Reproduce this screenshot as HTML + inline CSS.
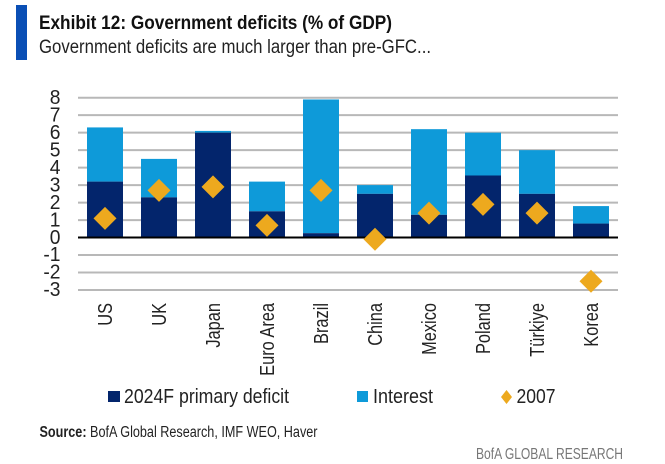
<!DOCTYPE html>
<html lang="en">
<head>
<meta charset="utf-8">
<title>Exhibit 12: Government deficits</title>
<style>
html,body{margin:0;padding:0;background:#fff;width:665px;height:464px;overflow:hidden}
svg{display:block;font-family:"Liberation Sans",sans-serif}
</style>
</head>
<body>
<svg id="chart" xmlns="http://www.w3.org/2000/svg" width="665" height="464" viewBox="0 0 665 464">
  <rect x="16" y="5" width="11" height="55" fill="#0a4fb5"/>
  <text x="39" y="29" font-size="19" font-weight="700" fill="#111" textLength="353" lengthAdjust="spacingAndGlyphs">Exhibit 12: Government deficits (% of GDP)</text>
  <text x="39" y="53" font-size="19" fill="#222" textLength="392" lengthAdjust="spacingAndGlyphs">Government deficits are much larger than pre-GFC...</text>
  <g id="grid"></g>
  <g id="yticks"></g>
  <g id="bars"></g>
  <line id="zero" x1="78" x2="618" stroke="#000" stroke-width="2"/>
  <g id="points"></g>
  <g id="xlabels"></g>

  <g>
    <g>
      <rect x="108" y="391" width="12" height="11" fill="#03256c"/>
      <text x="124" y="403" font-size="20" fill="#222" textLength="165" lengthAdjust="spacingAndGlyphs">2024F primary deficit</text>
    </g>
    <g>
      <rect x="357" y="391" width="11" height="11" fill="#0e9ad9"/>
      <text x="373" y="403" font-size="20" fill="#222" textLength="60" lengthAdjust="spacingAndGlyphs">Interest</text>
    </g>
    <g>
      <polygon points="506.5,390 512,397 506.5,404 501,397" fill="#eda91e"/>
      <text x="516.5" y="403" font-size="20" fill="#222" textLength="39" lengthAdjust="spacingAndGlyphs">2007</text>
    </g>
  </g>

  <text x="39.5" y="437" font-size="15.5" fill="#222" textLength="278" lengthAdjust="spacingAndGlyphs"><tspan font-weight="700">Source:</tspan> BofA Global Research, IMF WEO, Haver</text>
  <text x="476" y="459" font-size="16" fill="#777" textLength="147" lengthAdjust="spacingAndGlyphs">BofA GLOBAL RESEARCH</text>
</svg>
<script>
const categories = ["US","UK","Japan","Euro Area","Brazil","China","Mexico","Poland","Türkiye","Korea"];
const primaryDeficit = [3.2,2.3,6.0,1.5,0.25,2.5,1.3,3.55,2.5,0.8];
const interest = [3.1,2.2,0.1,1.7,7.65,0.5,4.9,2.45,2.5,1.0];
const values2007 = [1.1,2.7,2.9,0.7,2.7,-0.1,1.4,1.9,1.4,-2.5];
const yTicks = [8,7,6,5,4,3,2,1,0,-1,-2,-3];

const NS = "http://www.w3.org/2000/svg";
const plotLeft = 78, plotRight = 618, yTop = 97.7, yBottom = 290;
const yMax = 8, yMin = -3;
function yScale(v){ return yTop + (yMax - v) * (yBottom - yTop) / (yMax - yMin); }
function band(){ return (plotRight - plotLeft) / categories.length; }
function xCenter(i){ return plotLeft + band() * (i + 0.5); }
function make(tag, attrs, parent){
  const el = document.createElementNS(NS, tag);
  for (const k in attrs) el.setAttribute(k, attrs[k]);
  parent.appendChild(el);
  return el;
}
function slug(s){ return s.toLowerCase().replace(/ü/g,"u").replace(/[^a-z0-9]+/g,"-"); }

const gridG = document.getElementById("grid");
const yticksG = document.getElementById("yticks");
const barsG = document.getElementById("bars");
const pointsG = document.getElementById("points");
const xlabelsG = document.getElementById("xlabels");

const zero = document.getElementById("zero");
zero.setAttribute("y1", yScale(0));
zero.setAttribute("y2", yScale(0));

yTicks.forEach(function(t){
  const y = yScale(t);
  if (t !== 0) {
    const gl = make("line", {x1:plotLeft, x2:plotRight, y1:y, y2:y, stroke:"#b8b8b8", "stroke-width":2}, gridG);
    
    
  }
  const lab = make("text", {transform:"translate(60.5," + (y + 6.2) + ") scale(0.94,1)", "text-anchor":"end", "font-size":20.5, fill:"#222"}, yticksG);
  lab.textContent = String(t);
  
  
});

const barWidth = band() * 2 / 3;
categories.forEach(function(c, i){
  const cx = xCenter(i);
  const p = primaryDeficit[i], q = interest[i];
  const top = p + q;
  const r2 = make("rect", {x:cx - barWidth/2, width:barWidth, y:yScale(top), height:yScale(p) - yScale(top), fill:"#0e9ad9"}, barsG);
  
  
  const r1 = make("rect", {x:cx - barWidth/2, width:barWidth, y:yScale(p), height:yScale(0) - yScale(p), fill:"#03256c"}, barsG);
  
  

  const my = yScale(values2007[i]);
  const d = make("polygon", {points:[[cx,my-11.5],[cx+11.5,my],[cx,my+11.5],[cx-11.5,my]].map(function(a){return a.join(",");}).join(" "), fill:"#eda91e"}, pointsG);
  
  

  const t = make("text", {transform:"translate(" + (cx + 7) + ",303) rotate(-90) scale(0.82,1)", "text-anchor":"end", "font-size":20, fill:"#222"}, xlabelsG);
  t.textContent = c;
  
  
});
</script>
</body>
</html>
